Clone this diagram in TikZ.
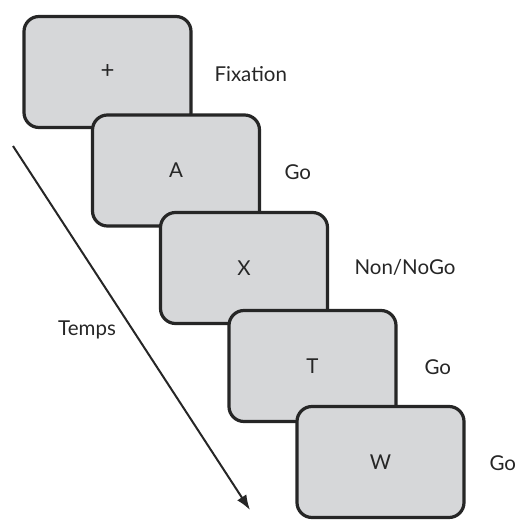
\documentclass[tikz,border=0pt]{standalone}
\usepackage{fontspec}
\setmainfont{Lato}
\usepackage{tikz}
\usetikzlibrary{arrows.meta}
\definecolor{screengray}{HTML}{D6D7D9}
\definecolor{ink}{HTML}{262626}
\tikzset{
  screen/.style={draw=ink, fill=screengray, line width=3.2pt, rounded corners=15pt,
    minimum width=167pt, minimum height=111pt, text=ink, font=\fontsize{20.5}{23}\selectfont},
  cond/.style={anchor=west, text=ink, font=\fontsize{20.5}{23}\selectfont}
}

\begin{document}
\begin{tikzpicture}[x=1pt,y=-1pt]
\useasboundingbox (0,0) rectangle (516,520);
\node [screen] (s1) at (107.5,72) {\fontsize{24}{26}\selectfont +};
\node [screen] (s2) at (176,170.5) {A};
\node [screen] (s3) at (244,268) {X};
\node [screen] (s4) at (312.5,366) {T};
\node [screen] (s5) at (380.5,462) {W};
\node [cond] (c1) at (211,74) {Fixation};
\node [cond] (c2) at (281,172) {Go};
\node [cond] (c3) at (351,267) {Non/NoGo};
\node [cond] (c4) at (421,367) {Go};
\node [cond] (c5) at (486,463) {Go};
\coordinate (t0) at (13,146);
\coordinate (t1) at (250,510);
\draw [ink, line width=2pt, -{Latex[length=15pt,width=11pt]}] (t0) -- (t1);
\node [text=ink, font=\fontsize{20.5}{23}\selectfont] (temps) at (87,330) {Temps};
\end{tikzpicture}
\end{document}
